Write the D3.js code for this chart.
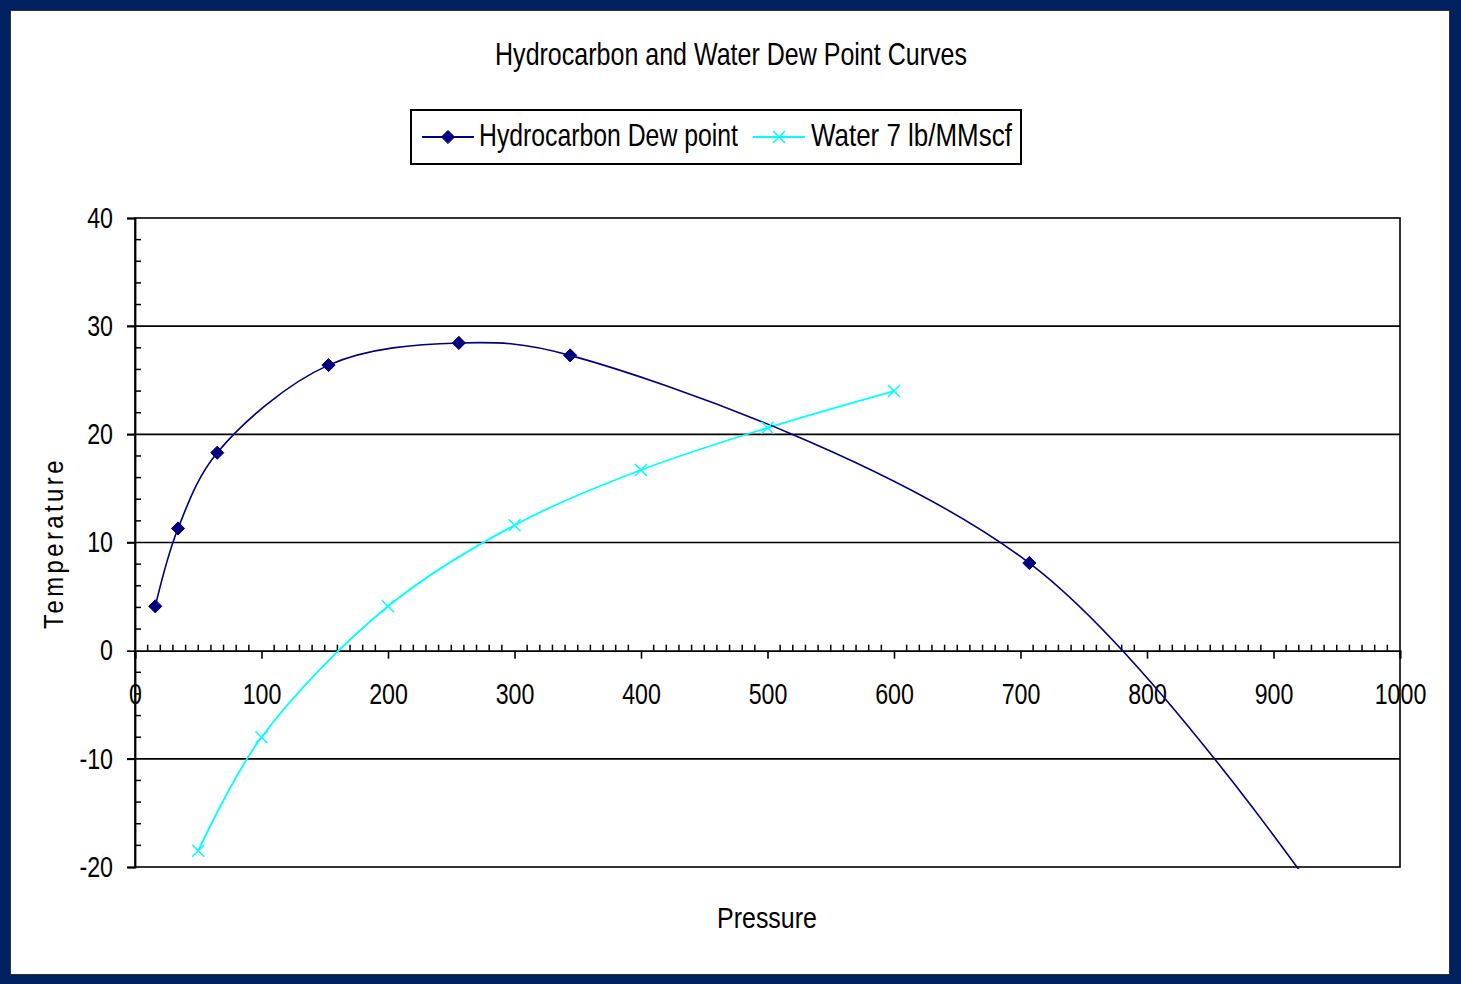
<!DOCTYPE html>
<html>
<head>
<meta charset="utf-8">
<script src="https://cdn.jsdelivr.net/npm/d3@7"></script>
<style>
  html, body { margin: 0; padding: 0; background: #ffffff; }
  svg { display: block; }
  text { font-family: "Liberation Sans", Arial, sans-serif; fill: #000; }
</style>
</head>
<body>
<svg id="chart" width="1461" height="984"></svg>
<script>
// ---- Data ----
const chartTitle = "Hydrocarbon and Water Dew Point Curves";
const xAxisTitle = "Pressure";
const yAxisTitle = "Temperature";
const seriesNames = ["Hydrocarbon Dew point", "Water 7 lb/MMscf"];

const hcPressure = [16, 34, 65, 153, 256, 344, 707, 955];
const hcTemperature = [4.1, 11.3, 18.3, 26.4, 28.45, 27.3, 8.1, -26];

const waterPressure = [50, 100, 200, 300, 400, 500, 600];
const waterTemperature = [-18.5, -8, 4.1, 11.6, 16.7, 20.6, 24.0];

const xTickValues = [0, 100, 200, 300, 400, 500, 600, 700, 800, 900, 1000];
const yTickValues = [-20, -10, 0, 10, 20, 30, 40];

// ---- Layout ----
const W = 1461, H = 984;
const plot = { left: 135, right: 1400, top: 218, bottom: 867 };
const navy = "#002060";
const hcColor = "#000080";
const waterColor = "#00ffff";
const font = "Liberation Sans";
const narrow = 0.8;

const svg = d3.select("#chart");

function squeeze(sel, s) {
  sel.each(function () {
    const t = d3.select(this);
    const x0 = +t.attr("x") || 0;
    t.attr("transform", `translate(${x0},0) scale(${s},1) translate(${-x0},0)`);
  });
}
function fitWidth(sel, target) {
  sel.each(function () {
    const w = this.getComputedTextLength();
    squeeze(d3.select(this), target / w);
  });
}

// outer frame
svg.append("rect").attr("x", 0).attr("y", 0).attr("width", W).attr("height", H).attr("fill", navy);
svg.append("rect").attr("x", 10.5).attr("y", 10.5).attr("width", 1439).attr("height", 964)
  .attr("fill", "#ffffff").attr("stroke", "#333333").attr("stroke-width", 1);

const x = d3.scaleLinear().domain([0, 1000]).range([plot.left, plot.right]);
const y = d3.scaleLinear().domain([-20, 40]).range([plot.bottom, plot.top]);

// gridlines (major)
svg.append("g").selectAll("line")
  .data(yTickValues.filter(v => v !== 0 && v !== -20 && v !== 40))
  .join("line")
  .attr("x1", plot.left - 8).attr("x2", plot.right)
  .attr("y1", d => y(d)).attr("y2", d => y(d))
  .attr("stroke", "#000").attr("stroke-width", 1.6);

// plot frame
svg.append("rect")
  .attr("x", plot.left).attr("y", plot.top)
  .attr("width", plot.right - plot.left).attr("height", plot.bottom - plot.top)
  .attr("fill", "none").attr("stroke", "#000").attr("stroke-width", 1.6);

// Y axis (major outside, minor inside)
const yAxis = d3.axisLeft(y).tickValues(yTickValues).tickSize(8).tickPadding(14).tickFormat(d => String(d));
const gy = svg.append("g").attr("transform", `translate(${plot.left},0)`).call(yAxis);
gy.select(".domain").attr("stroke", "#000").attr("stroke-width", 1.8);
gy.selectAll(".tick line").attr("stroke", "#000").attr("stroke-width", 1.6);
gy.selectAll(".tick text").attr("font-family", font).attr("font-size", 29).attr("fill", "#000")
  .call(squeeze, narrow);

const yMinor = d3.range(-20, 40.01, 2).filter(v => v % 10 !== 0);
svg.append("g").selectAll("line").data(yMinor).join("line")
  .attr("x1", plot.left).attr("x2", plot.left + 6)
  .attr("y1", d => y(d)).attr("y2", d => y(d))
  .attr("stroke", "#000").attr("stroke-width", 1.5);

// X axis at y=0
const xAxis = d3.axisBottom(x).tickValues(xTickValues).tickSize(8).tickPadding(25).tickFormat(d => String(d));
const gx = svg.append("g").attr("transform", `translate(0,${y(0)})`).call(xAxis);
gx.select(".domain").attr("stroke", "#000").attr("stroke-width", 1.8);
gx.selectAll(".tick line").attr("stroke", "#000").attr("stroke-width", 1.6);
gx.selectAll(".tick text").attr("font-family", font).attr("font-size", 29).attr("fill", "#000")
  .call(squeeze, narrow);

const xMinor = d3.range(0, 1000.01, 10).filter(v => v % 100 !== 0);
svg.append("g").selectAll("line").data(xMinor).join("line")
  .attr("x1", d => x(d)).attr("x2", d => x(d))
  .attr("y1", y(0)).attr("y2", y(0) - 6)
  .attr("stroke", "#000").attr("stroke-width", 1.5);

// clip
svg.append("clipPath").attr("id", "plotclip").append("rect")
  .attr("x", plot.left).attr("y", plot.top)
  .attr("width", plot.right - plot.left).attr("height", plot.bottom - plot.top + 2);

const line = d3.line().x(d => x(d[0])).y(d => y(d[1])).curve(d3.curveCatmullRom.alpha(0.5));

const hcData = hcPressure.map((p, i) => [p, hcTemperature[i]]);
const waterData = waterPressure.map((p, i) => [p, waterTemperature[i]]);

const gPlot = svg.append("g").attr("clip-path", "url(#plotclip)");

gPlot.append("path").datum(waterData).attr("d", line)
  .attr("fill", "none").attr("stroke", waterColor).attr("stroke-width", 1.8);
gPlot.append("path").datum(hcData).attr("d", line)
  .attr("fill", "none").attr("stroke", hcColor).attr("stroke-width", 1.6);

// markers
const diamond = d3.symbol().type(d3.symbolDiamond2).size(110);
gPlot.selectAll(".hcm").data(hcData.filter(d => d[1] >= -20)).join("path")
  .attr("class", "hcm")
  .attr("transform", d => `translate(${x(d[0])},${y(d[1])})`)
  .attr("d", diamond).attr("fill", hcColor).attr("stroke", hcColor).attr("stroke-width", 1);

const xs = 6;
gPlot.selectAll(".wm").data(waterData).join("path")
  .attr("class", "wm")
  .attr("d", d => { const cx = x(d[0]), cy = y(d[1]);
    return `M${cx - xs},${cy - xs}L${cx + xs},${cy + xs}M${cx - xs},${cy + xs}L${cx + xs},${cy - xs}`; })
  .attr("stroke", waterColor).attr("stroke-width", 1.5).attr("fill", "none");

// title
svg.append("text").attr("x", 731).attr("y", 65).attr("text-anchor", "middle")
  .attr("font-family", font).attr("font-size", 32).text(chartTitle)
  .call(fitWidth, 472);

// axis titles
svg.append("text").attr("x", 767).attr("y", 928).attr("text-anchor", "middle")
  .attr("font-family", font).attr("font-size", 29).text(xAxisTitle)
  .call(fitWidth, 100);
svg.append("g").attr("transform", `translate(63,543) rotate(-90)`)
  .append("text").attr("x", 0).attr("y", 0)
  .attr("text-anchor", "middle").attr("letter-spacing", 4)
  .attr("font-family", font).attr("font-size", 28).text(yAxisTitle)
  .call(fitWidth, 172);

// legend
const leg = svg.append("g");
leg.append("rect").attr("x", 411).attr("y", 110).attr("width", 610).attr("height", 54)
  .attr("fill", "#fff").attr("stroke", "#000").attr("stroke-width", 2);

const legItems = [
  { name: seriesNames[0], color: hcColor, x0: 422, tx: 479, w: 259, type: "diamond" },
  { name: seriesNames[1], color: waterColor, x0: 753, tx: 811, w: 201, type: "x" }
];
const ly = 137;
legItems.forEach(it => {
  leg.append("line").attr("x1", it.x0).attr("x2", it.x0 + 52).attr("y1", ly).attr("y2", ly)
    .attr("stroke", it.color).attr("stroke-width", 1.8);
  const cx = it.x0 + 26;
  if (it.type === "diamond") {
    leg.append("path").attr("transform", `translate(${cx},${ly})`).attr("d", diamond)
      .attr("fill", it.color).attr("stroke", it.color);
  } else {
    leg.append("path").attr("d", `M${cx - xs},${ly - xs}L${cx + xs},${ly + xs}M${cx - xs},${ly + xs}L${cx + xs},${ly - xs}`)
      .attr("stroke", it.color).attr("stroke-width", 1.5);
  }
  leg.append("text").attr("x", it.tx).attr("y", ly + 9).attr("font-family", font).attr("font-size", 32)
    .text(it.name).call(fitWidth, it.w);
});
</script>
</body>
</html>
